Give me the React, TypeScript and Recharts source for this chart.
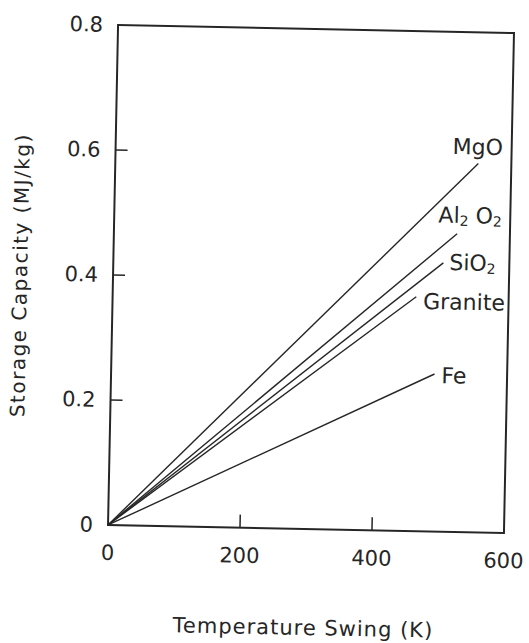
import { LineChart, Line, XAxis, YAxis, ReferenceArea, Label } from 'recharts'

// materials, with "_n" marking a subscript digit
const materials = ['MgO', 'Al_2 O_2', 'SiO_2', 'Granite', 'Fe']
// each line runs from the origin to this end point
const swingEnd = [550, 520, 500, 460, 490] // K
const capacityEnd = [0.59, 0.477, 0.43, 0.375, 0.252] // MJ/kg

const xTicks = [0, 200, 400, 600]
const yTicks = [0, 0.2, 0.4, 0.6, 0.8]

const W = 529
const H = 643
const MARGIN = { top: 29, right: 20, bottom: 54, left: 53 }
const Y_W = 60
const X_H = 60
const LEFT = MARGIN.left + Y_W
const BOTTOM = H - MARGIN.bottom - X_H
const INK = '#262626'
const FONT = '"DejaVu Sans", sans-serif'

// where each name sits relative to the end of its line
const labelOffset: [number, number][] = [
  [-26, -17],
  [-19, -19],
  [6, -1],
  [7, 4],
  [7, 1],
]

const series = materials.map((name, i) => ({
  name,
  data: [
    { swing: 0, capacity: 0 },
    { swing: swingEnd[i], capacity: capacityEnd[i] },
  ],
}))

const renderName = (text: string) =>
  text.split(/_(\d)/).map((part, k) =>
    k % 2 === 1 ? (
      <tspan key={k} fontSize={14} dy={6}>
        {part}
      </tspan>
    ) : (
      <tspan key={k} dy={k === 0 ? 0 : -6}>
        {part}
      </tspan>
    )
  )

const endLabel = (i: number) => (props: any) => {
  if (props.index !== 1) return null
  const x = props.x ?? props.viewBox?.x
  const y = props.y ?? props.viewBox?.y
  const [dx, dy] = labelOffset[i]
  return (
    <text x={x + dx} y={y + dy} dominantBaseline='central' fontFamily={FONT} fontSize={22} fill={INK}>
      {renderName(materials[i])}
    </text>
  )
}

const YTick = (props: any) => {
  const y = props.payload.coordinate
  const v = props.payload.value
  return (
    <g>
      {v > 0 && v < 0.8 && <line x1={LEFT} x2={LEFT + 12} y1={y} y2={y} stroke={INK} strokeWidth={1.5} />}
      <text x={LEFT - 15} y={y} textAnchor='end' dominantBaseline='central' fontFamily={FONT} fontSize={21} fill={INK}>
        {v === 0 ? '0' : v.toFixed(1)}
      </text>
    </g>
  )
}

const XTick = (props: any) => {
  const x = props.payload.coordinate
  const v = props.payload.value
  return (
    <g>
      {v > 0 && v < 600 && <line x1={x} x2={x} y1={BOTTOM} y2={BOTTOM - 13} stroke={INK} strokeWidth={1.5} />}
      <text x={x} y={BOTTOM + 28} textAnchor='middle' dominantBaseline='central' fontFamily={FONT} fontSize={21} fill={INK}>
        {v}
      </text>
    </g>
  )
}

export default function App() {
  return (
    <div style={{ position: 'absolute', left: 0, top: 0, width: W, height: H, overflow: 'hidden', background: '#fff' }}>
      <div style={{ width: W, height: H, transform: 'rotate(1.15deg)', transformOrigin: '311px 279px' }}>
        <LineChart width={W} height={H} margin={MARGIN}>
          <XAxis
            type='number'
            dataKey='swing'
            domain={[0, 600]}
            ticks={xTicks}
            height={X_H}
            axisLine={false}
            tickLine={false}
            tick={XTick}
            interval={0}
          >
            <Label
              content={() => (
                <text x={310} y={628} textAnchor='middle' dominantBaseline='central' fontFamily={FONT} fontSize={21} letterSpacing={1} fill={INK}>
                  Temperature Swing (K)
                </text>
              )}
            />
          </XAxis>
          <YAxis
            type='number'
            domain={[0, 0.8]}
            ticks={yTicks}
            width={Y_W}
            axisLine={false}
            tickLine={false}
            tick={YTick}
            interval={0}
          >
            <Label
              content={() => (
                <text x={27} y={281} transform='rotate(-90, 27, 281)' textAnchor='middle' fontFamily={FONT} fontSize={20} letterSpacing={1.5} fill={INK}>
                  Storage Capacity (MJ/kg)
                </text>
              )}
            />
          </YAxis>
          <ReferenceArea x1={0} x2={600} y1={0} y2={0.8} fill='none' stroke={INK} strokeWidth={2} />
          {series.map((s, i) => (
            <Line
              key={s.name}
              data={s.data}
              dataKey='capacity'
              type='linear'
              stroke={INK}
              strokeWidth={1.4}
              dot={false}
              label={endLabel(i)}
              isAnimationActive={false}
            />
          ))}
        </LineChart>
      </div>
    </div>
  )
}
